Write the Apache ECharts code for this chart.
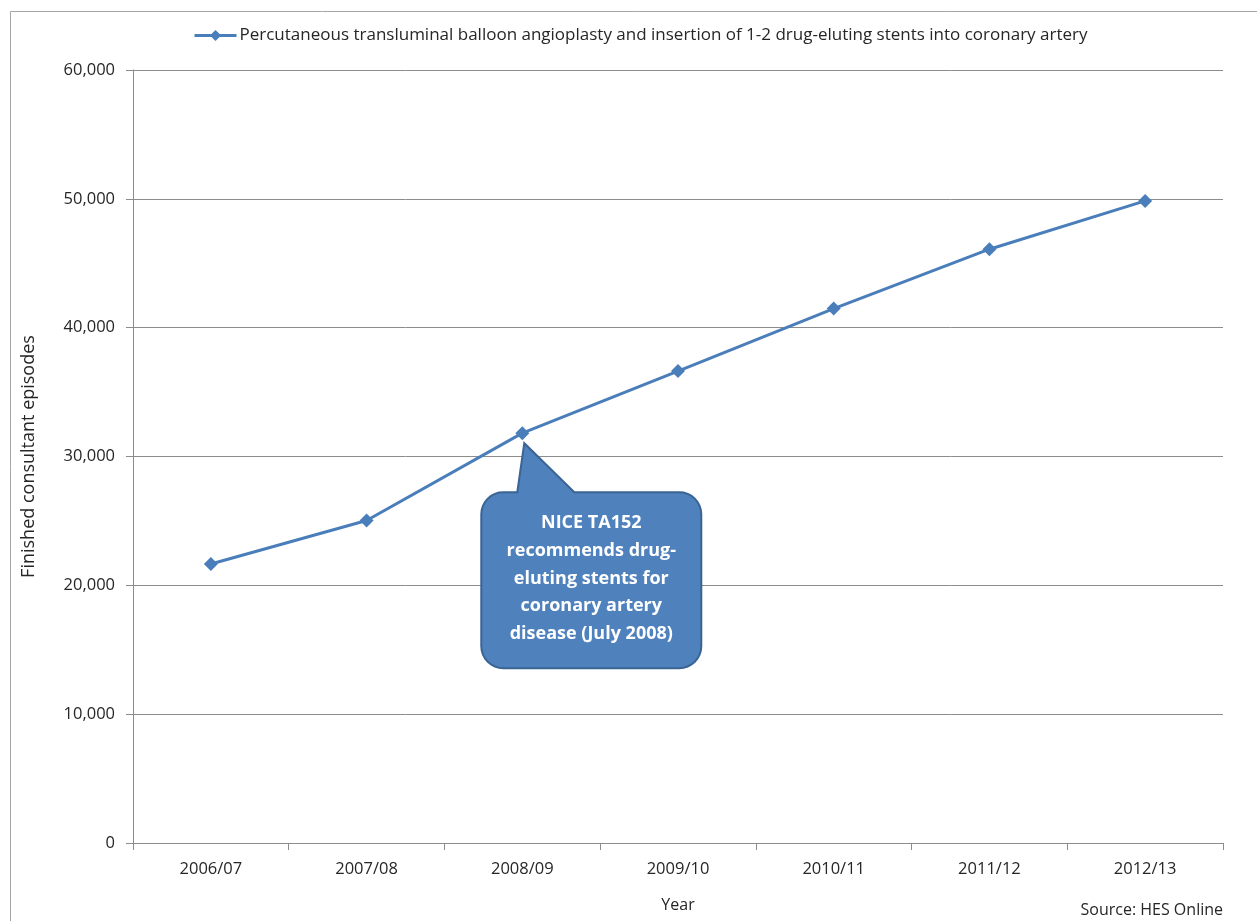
<!DOCTYPE html>
<html>
<head>
<meta charset="utf-8">
<script src="https://cdn.jsdelivr.net/npm/echarts@6/dist/echarts.min.js"></script>
<style>
  html, body { margin: 0; padding: 0; background: #fff; }
  #chart { width: 1257px; height: 921px; }
</style>
</head>
<body>
<div id="chart"></div>
<script>
// data
const YEARS = ['2006/07', '2007/08', '2008/09', '2009/10', '2010/11', '2011/12', '2012/13'];
const EPISODES = [21660, 25030, 31810, 36630, 41480, 46090, 49840];
const SERIES_NAME = 'Percutaneous transluminal balloon angioplasty and insertion of 1-2 drug-eluting stents into coronary artery';
const NOTE_LINES = ['NICE TA152', 'recommends drug-', 'eluting stents for', 'coronary artery', 'disease (July 2008)'];
const NOTE_AT = '2008/09';

const FONT = 'Open Sans';
const BLUE = '#4A7EBB';
const GRID_C = '#8C8C8C';
const INK = '#262626';

const c = echarts.init(document.getElementById('chart'), null, { renderer: 'canvas' });

c.setOption({
  animation: false,
  textStyle: { fontFamily: FONT, color: INK },
  grid: { left: 133, right: 34, top: 70, bottom: 78 },
  legend: {
    top: 22, left: 188,
    itemWidth: 42, itemHeight: 14, itemGap: 4,
    lineStyle: { width: 3 },
    textStyle: { fontFamily: FONT, fontSize: 17, color: INK, padding: [0, 0, 0, -2] },
    data: [{ name: SERIES_NAME }],
  },
  xAxis: {
    type: 'category', data: YEARS, boundaryGap: true,
    name: 'Year', nameLocation: 'middle', nameGap: 54,
    nameTextStyle: { fontFamily: FONT, fontSize: 16, color: INK },
    axisLine: { lineStyle: { color: GRID_C, width: 1 } },
    axisTick: { show: true, length: 7, lineStyle: { color: GRID_C } },
    axisLabel: { color: INK, fontSize: 16.5, margin: 18 },
  },
  yAxis: {
    type: 'value', min: 0, max: 60000, interval: 10000,
    name: 'Finished consultant episodes', nameLocation: 'middle', nameGap: 95,
    nameTextStyle: { fontFamily: FONT, fontSize: 18, color: INK },
    axisLine: { show: true, lineStyle: { color: GRID_C } },
    axisTick: { show: true, length: 7, lineStyle: { color: GRID_C } },
    splitLine: { lineStyle: { color: GRID_C } },
    axisLabel: {
      color: INK, fontSize: 16.5, margin: 18,
      formatter: v => v.toLocaleString('en-GB'),
    },
  },
  series: [{
    name: SERIES_NAME, type: 'line', data: EPISODES,
    symbol: 'diamond', symbolSize: 14,
    lineStyle: { color: BLUE, width: 3 },
    itemStyle: { color: BLUE },
  }],
});

// callout bubble anchored to the 2008/09 point
const [px, py] = c.convertToPixel({ seriesIndex: 0 }, [NOTE_AT, EPISODES[YEARS.indexOf(NOTE_AT)]]);
const L = px - 41, R = px + 179, T = py + 59, B = py + 235, r = 22;

function corner(cx, cy, a0) {
  const pts = [];
  for (let k = 0; k <= 8; k++) {
    const a = (a0 + 90 * k / 8) * Math.PI / 180;
    pts.push([cx + r * Math.cos(a), cy + r * Math.sin(a)]);
  }
  return pts;
}
const bubble = [
  ...corner(L + r, T + r, 180),
  [px - 5, T], [px + 2, py + 10], [px + 52, T],
  ...corner(R - r, T + r, 270),
  ...corner(R - r, B - r, 0),
  ...corner(L + r, B - r, 90),
];

c.setOption({
  graphic: [
    {
      id: 'frame', type: 'rect', left: 8, top: 9, silent: true, z: -10,
      shape: { width: 1248, height: 930 },
      style: { fill: 'none', stroke: '#A6A6A6', lineWidth: 1 },
    },
    {
      id: 'source', type: 'text', right: 34, bottom: 3,
      style: { text: 'Source: HES Online', font: `16px "${FONT}"`, fill: INK },
    },
    {
      id: 'bubble', type: 'polygon', z: 100,
      shape: { points: bubble },
      style: { fill: '#4F81BD', stroke: '#3A6494', lineWidth: 2 },
    },
    {
      id: 'note', type: 'text', z: 101,
      x: (L + R) / 2, y: T + 17,
      style: {
        text: NOTE_LINES.join('\n'),
        font: `bold 18px "${FONT}"`, fill: '#fff',
        align: 'center', verticalAlign: 'top', lineHeight: 27.7,
      },
    },
  ],
});
</script>
</body>
</html>
